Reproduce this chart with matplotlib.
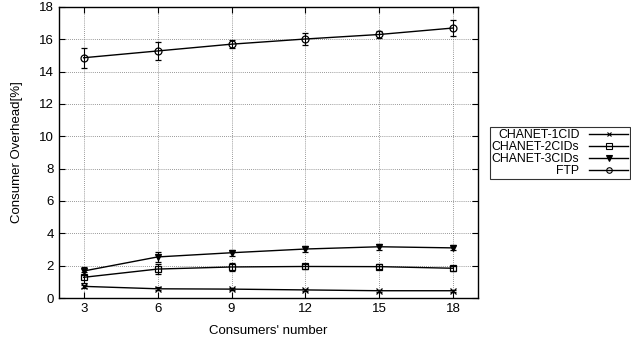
import matplotlib
matplotlib.use('Agg')
import matplotlib.pyplot as plt
from matplotlib.lines import Line2D
import numpy as np

consumers = [3, 6, 9, 12, 15, 18]

cid1 = [0.72, 0.57, 0.55, 0.50, 0.45, 0.45]
cid1_err = [0.10, 0.08, 0.07, 0.07, 0.06, 0.06]
cid2 = [1.28, 1.79, 1.92, 1.95, 1.94, 1.84]
cid2_err = [0.35, 0.30, 0.25, 0.15, 0.15, 0.15]
cid3 = [1.67, 2.54, 2.80, 3.03, 3.17, 3.10]
cid3_err = [0.25, 0.30, 0.20, 0.18, 0.20, 0.15]
ftp = [14.86, 15.28, 15.70, 16.02, 16.30, 16.70]
ftp_err = [0.62, 0.55, 0.25, 0.38, 0.20, 0.50]

labels = ['CHANET-1CID', 'CHANET-2CIDs', 'CHANET-3CIDs', 'FTP']

plt.rcParams['font.family'] = ['Liberation Sans', 'DejaVu Sans']

fig = plt.figure(figsize=(6.31, 3.44), dpi=100)
ax = fig.add_axes([0.0935, 0.1337, 0.664, 0.846])

series = [
    (cid1, cid1_err, dict(marker='x', ms=4.5, mfc='black')),
    (cid2, cid2_err, dict(marker='s', ms=5, mfc='none')),
    (cid3, cid3_err, dict(marker='v', ms=5, mfc='black')),
    (ftp, ftp_err, dict(marker='o', ms=5, mfc='none')),
]
handles = []
for (vals, errs, st), lab in zip(series, labels):
    ax.errorbar(consumers, vals, yerr=errs, color='black', lw=1.0,
                elinewidth=0.8, capsize=2.5, capthick=0.8,
                mec='black', mew=0.9, **st)
    # legend shows only line + marker, no error bar
    leg_st = dict(st)
    leg_st['ms'] = st['ms'] - 1
    handles.append(Line2D([], [], color='black', lw=1.0, mec='black', mew=0.8, **leg_st))

ax.set_xlim(2, 19)
ax.set_ylim(0, 18)
ax.set_xticks(consumers)
ax.set_yticks(np.arange(0, 19, 2))
ax.tick_params(direction='in', top=True, right=True, labelsize=9.5, length=4, width=0.8)
ax.grid(True, linestyle=(0, (1, 1.5)), color='#777777', lw=0.6)
for s in ax.spines.values():
    s.set_linewidth(1.0)

ax.set_xlabel("Consumers' number", fontsize=9.5, labelpad=7)
ax.set_ylabel('Consumer Overhead[%]', fontsize=9.5, labelpad=12)

leg = fig.legend(handles=handles, labels=labels,
                 loc='upper left', bbox_to_anchor=(490 / 631, 1 - 127 / 344),
                 markerfirst=False, fontsize=8.8, frameon=True, fancybox=False,
                 borderpad=0.15, labelspacing=0.0, handlelength=3.2,
                 handletextpad=0.8, borderaxespad=0)
leg.get_frame().set_edgecolor('black')
leg.get_frame().set_linewidth(0.8)
for t in leg.get_texts():
    t.set_ha('right')

fig.savefig('out.png', dpi=100)
